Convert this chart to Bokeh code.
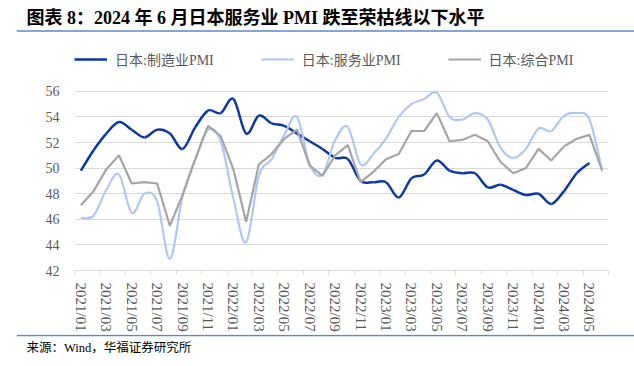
from bokeh.plotting import figure
from bokeh.models import Range1d, FixedTicker, Legend, LegendItem, Label, Span
from bokeh.layouts import column
from bokeh.embed import file_html
from bokeh.resources import INLINE

title = "图表 8：2024 年 6 月日本服务业 PMI 跌至荣枯线以下水平"
source_text = "来源：Wind，华福证券研究所"

tick_labels = ["2021/01", "2021/03", "2021/05", "2021/07", "2021/09", "2021/11",
               "2022/01", "2022/03", "2022/05", "2022/07", "2022/09", "2022/11",
               "2023/01", "2023/03", "2023/05", "2023/07", "2023/09", "2023/11",
               "2024/01", "2024/03", "2024/05"]

manufacturing = [49.8, 51.4, 52.7, 53.6, 53.0, 52.4, 53.0, 52.7, 51.5, 53.2, 54.5, 54.3,
                 55.4, 52.7, 54.1, 53.5, 53.3, 52.7, 52.1, 51.5, 50.8, 50.7, 49.0, 48.9,
                 48.9, 47.7, 49.2, 49.5, 50.6, 49.8, 49.6, 49.6, 48.5, 48.7, 48.3, 47.9,
                 48.0, 47.2, 48.2, 49.6, 50.4]
services = [46.1, 46.3, 48.3, 49.5, 46.5, 48.0, 47.4, 42.9, 47.8, 50.7, 53.0, 52.1,
            47.6, 44.2, 49.4, 50.7, 52.6, 54.0, 50.3, 49.5, 52.2, 53.2, 50.3, 51.1,
            52.3, 54.0, 55.0, 55.4, 55.9, 54.0, 53.8, 54.3, 53.8, 51.6, 50.8, 51.5,
            53.1, 52.9, 54.1, 54.3, 53.8, 49.8]
composite = [47.1, 48.2, 49.9, 51.0, 48.8, 48.9, 48.8, 45.5, 47.9, 50.7, 53.3, 52.5,
             49.9, 45.8, 50.3, 51.1, 52.3, 53.0, 50.2, 49.4, 51.0, 51.8, 48.9, 49.7,
             50.7, 51.1, 52.9, 52.9, 54.3, 52.1, 52.2, 52.6, 52.1, 50.5, 49.6, 50.0,
             51.5, 50.6, 51.7, 52.3, 52.6, 49.8]

names = ["日本:制造业PMI", "日本:服务业PMI", "日本:综合PMI"]
colors = ["#0B36A6", "#B0C6F6", "#A5A5A5"]
RULE = "#5B87C9"

FONT = "'Liberation Serif', 'Noto Sans CJK SC'"
N_MONTHS = len(services)
Y_MIN, Y_MAX = 42, 56
W = 634
STRIP_H = 32


def smooth(ys):
    """Bezier segments (Excel-style smoothed line) through the data points."""
    xs = [i + 0.5 for i in range(len(ys))]
    n = len(ys)
    d = dict(x0=[], y0=[], x1=[], y1=[], cx0=[], cy0=[], cx1=[], cy1=[])
    for i in range(n - 1):
        pm = max(i - 1, 0)
        pp = min(i + 2, n - 1)
        d["x0"].append(xs[i]); d["y0"].append(ys[i])
        d["x1"].append(xs[i + 1]); d["y1"].append(ys[i + 1])
        d["cx0"].append(xs[i] + (xs[i + 1] - xs[pm]) / 6)
        d["cy0"].append(ys[i] + (ys[i + 1] - ys[pm]) / 6)
        d["cx1"].append(xs[i + 1] - (xs[pp] - xs[i]) / 6)
        d["cy1"].append(ys[i + 1] - (ys[pp] - ys[i]) / 6)
    return d


def text_strip(text, size, style, text_y, rule_y):
    """Header/footer strip: one text and the report's blue rule."""
    f = figure(width=W, height=STRIP_H, output_backend="svg", toolbar_location=None,
               x_axis_location=None, y_axis_location=None,
               x_range=Range1d(0, W - 16), y_range=Range1d(0, STRIP_H),
               min_border_left=16, min_border_right=0,
               min_border_top=0, min_border_bottom=0)
    f.frame_align = False
    f.grid.visible = False
    f.outline_line_color = None
    f.background_fill_color = "white"
    f.border_fill_color = "white"
    f.add_layout(Span(location=rule_y, dimension="width",
                      line_color=RULE, line_width=1.5))
    f.add_layout(Label(x=10, y=text_y, text=text, text_font=FONT,
                       text_font_size=size, text_font_style=style,
                       text_color="#000000", text_baseline="middle"))
    return f


p_title = text_strip(title, "18px", "bold", 14.5, 1.5)

# main chart (frame extends above 56 to hold the legend; no outline is drawn)
p = figure(width=W, height=302, output_backend="svg", toolbar_location=None,
           x_range=Range1d(0, N_MONTHS), y_range=Range1d(Y_MIN, 59.66),
           min_border_left=74, min_border_right=26, min_border_top=12,
           min_border_bottom=63)
p.frame_align = False
p.outline_line_color = None
p.background_fill_color = "white"
p.border_fill_color = "white"

r_m = p.bezier(line_color=colors[0], line_width=2.5, **smooth(manufacturing))
r_s = p.bezier(line_color=colors[1], line_width=2.2, **smooth(services))
r_c = p.line([i + 0.5 for i in range(len(composite))], composite,
             line_color=colors[2], line_width=2.2)

p.yaxis.ticker = FixedTicker(ticks=list(range(Y_MIN, Y_MAX + 1, 2)))
p.yaxis.axis_line_color = None
p.yaxis.major_tick_line_color = None
p.yaxis.minor_tick_line_color = None
p.yaxis.major_label_standoff = 9
p.yaxis.major_label_text_font = FONT
p.yaxis.major_label_text_font_size = "14px"
p.yaxis.major_label_text_color = "#595959"
p.ygrid.ticker = FixedTicker(ticks=list(range(Y_MIN + 2, Y_MAX + 1, 2)))
p.ygrid.grid_line_color = "#D9D9D9"
p.ygrid.grid_line_width = 1
p.xgrid.grid_line_color = None

label_pos = [2 * k + 0.5 for k in range(len(tick_labels))]
p.xaxis.ticker = FixedTicker(ticks=label_pos,
                             minor_ticks=list(range(0, N_MONTHS + 1, 2)))
p.xaxis.major_label_overrides = {pos: lab for pos, lab in zip(label_pos, tick_labels)}
p.xaxis.major_label_orientation = "vertical"
p.xaxis.axis_line_color = "#D9D9D9"
p.xaxis.axis_line_width = 1
p.xaxis.major_tick_line_color = None
p.xaxis.major_tick_out = 0
p.xaxis.major_tick_in = 0
p.xaxis.minor_tick_line_color = "#D9D9D9"
p.xaxis.minor_tick_out = 4
p.xaxis.minor_tick_in = 0
p.xaxis.major_label_standoff = 8
p.xaxis.major_label_text_font = FONT
p.xaxis.major_label_text_font_size = "15px"
p.xaxis.major_label_text_color = "#595959"

legend = Legend(items=[LegendItem(label=names[0], renderers=[r_m]),
                       LegendItem(label=names[1], renderers=[r_s]),
                       LegendItem(label=names[2], renderers=[r_c])],
                orientation="horizontal", location=(0, 201),
                glyph_width=33, glyph_height=16, label_height=16,
                label_standoff=8, spacing=47, padding=0, margin=0,
                border_line_color=None, background_fill_alpha=0,
                label_text_font=FONT, label_text_font_size="14px",
                label_text_color="#595959")
p.add_layout(legend)

p_src = text_strip(source_text, "12.5px", "normal", 19, 31)

layout = column(p_title, p, p_src, spacing=0)

open("out.html", "w").write(file_html(layout, INLINE))
